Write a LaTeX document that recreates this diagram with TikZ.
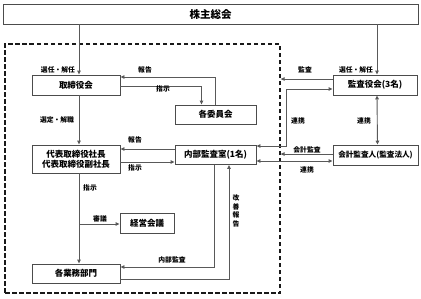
\documentclass[tikz,border=0pt]{standalone}
\usepackage{fontspec}
\setmainfont{Noto Sans CJK JP}
\usetikzlibrary{arrows.meta}
\tikzset{
 box/.style={draw=black!70,line width=.9pt,fill=white,inner sep=0,font=\fontsize{8.5}{10}\selectfont\bfseries,align=center},
 topbox/.style={box,font=\fontsize{10.5}{12}\selectfont\bfseries},
 dashbox/.style={draw=black!90,line width=1.3pt,dash pattern=on 4.5pt off 2.5pt,inner sep=0},
 conn/.style={draw=black!65,line width=.9pt},
 arr/.style={conn,-{Triangle[length=4pt,width=3.6pt]},shorten >=0pt},
 darr/.style={conn,{Triangle[length=4pt,width=3.6pt]}-{Triangle[length=4pt,width=3.6pt]}},
 lbl/.style={font=\fontsize{6.8}{8}\selectfont\bfseries,inner sep=0}
}
\begin{document}
\begin{tikzpicture}[x=1pt,y=-1pt]
\path[use as bounding box] (0,0) rectangle (421,298);
\node[dashbox,minimum width=275pt,minimum height=249pt] (kaisha) at (142.5,168.5) {};
\node[topbox,minimum width=415pt,minimum height=20pt] (soukai) at (210.5,14) {株主総会};
\node[box,minimum width=88pt,minimum height=20pt] (torishimari) at (76,85) {取締役会};
\node[box,minimum width=81pt,minimum height=19pt] (iinkai) at (215.5,114.5) {各委員会};
\node[box,minimum width=84pt,minimum height=20pt] (kansayaku) at (375,85) {監査役会(3名)};
\node[box,minimum width=88pt,minimum height=28pt] (daihyo) at (76,159) {代表取締役社長\\代表取締役副社長};
\node[box,minimum width=81pt,minimum height=19pt] (naibu) at (215.5,155) {内部監査室(1名)};
\node[box,minimum width=85pt,minimum height=20pt,font=\fontsize{7.6}{9}\selectfont\bfseries] (kaikei) at (375.5,155) {会計監査人(監査法人)};
\node[box,minimum width=54pt,minimum height=20pt] (keiei) at (147,223) {経営会議};
\node[box,minimum width=88pt,minimum height=19pt] (gyomu) at (76,273.5) {各業務部門};
\coordinate (shingi) at (79,224);
\draw[arr] ([xshift=3]torishimari.north |- soukai.south) -- ([xshift=3]torishimari.north);
\draw[arr] ([xshift=2]kansayaku.north |- soukai.south) -- ([xshift=2]kansayaku.north);
\draw[arr] ([xshift=3]torishimari.south) -- ([xshift=3]daihyo.north);
\draw[arr] ([xshift=3]daihyo.south) -- ([xshift=3]gyomu.north);
\draw[arr] (shingi) -- (shingi -| keiei.west);
\draw[arr] (iinkai.north) |- ([yshift=8]torishimari.east);
\draw[arr] ([yshift=-1]torishimari.east) -| ([xshift=-14]iinkai.north);
\draw[arr] ([yshift=6]naibu.west) -- ([yshift=6]naibu.west -| daihyo.east);
\draw[arr] ([yshift=-3]daihyo.east) -- ([yshift=-3]daihyo.east -| naibu.west);
\draw[darr] ([yshift=9]naibu.east) -| ([xshift=-46,yshift=-4]kansayaku.west) -- ([yshift=-4]kansayaku.west);
\draw[arr] ([yshift=6]kansayaku.west) -- ([yshift=6]kansayaku.west -| kaisha.east);
\draw[arr] ([yshift=1]kaikei.west) -- ([yshift=1]kaikei.west -| kaisha.east);
\draw[darr] ([yshift=-6]naibu.east) -- ([yshift=-6]naibu.east -| kaikei.west);
\draw[darr] ([xshift=2]kansayaku.south) -- ([xshift=2]kaikei.north);
\draw[arr] ([xshift=-1.5]naibu.south) |- ([yshift=6.5]gyomu.east);
\draw[arr] ([yshift=-5.5]gyomu.east) -| ([xshift=13.5]naibu.south);
\node[lbl] (l1) at (58,70) {選任・解任};
\node[lbl] (l2) at (356,70) {選任・解任};
\node[lbl] (l3) at (145,70) {報告};
\node[lbl] (l4) at (163,89) {指示};
\node[lbl] (l5) at (57,120) {選定・解職};
\node[lbl] (l6) at (135,140) {報告};
\node[lbl] (l7) at (135,168) {指示};
\node[lbl] (l8) at (90,188) {指示};
\node[lbl] (l9) at (100,219) {審議};
\node[lbl] (l10) at (172,260) {内部監査};
\node[lbl,align=center,font=\fontsize{6.8}{8.4}\selectfont\bfseries] (l11) at (236,211) {改\\善\\報\\告};
\node[lbl] (l12) at (305,70) {監査};
\node[lbl] (l13) at (298,121) {連携};
\node[lbl] (l14) at (364,121) {連携};
\node[lbl] (l15) at (307,150) {会計監査};
\node[lbl] (l16) at (307,170) {連携};
\end{tikzpicture}
\end{document}
